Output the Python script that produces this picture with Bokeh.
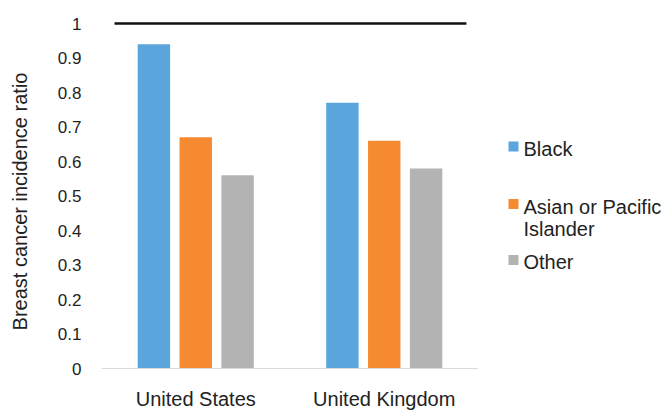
import math
from bokeh.plotting import figure
from bokeh.layouts import row
from bokeh.models import (ColumnDataSource, FactorRange, Range1d, FixedTicker,
                          NumeralTickFormatter, Span)
from bokeh.transform import dodge
from bokeh.core.properties import value
from bokeh.embed import file_html
from bokeh.resources import INLINE

# Breast cancer incidence ratio by group, relative to the reference population (= 1)
countries = ["United States", "United Kingdom"]
groups = ["Black", "Asian or Pacific Islander", "Other"]
black = [0.94, 0.77]
asian_pacific = [0.67, 0.66]
other = [0.56, 0.58]
reference_ratio = 1.0
y_ticks = [0, 0.1, 0.2, 0.3, 0.4, 0.5, 0.6, 0.7, 0.8, 0.9, 1.0]
y_title = "Breast cancer incidence ratio"

colors = ["#5aa6dc", "#f58a31", "#b3b3b3"]
FONT = "Liberation Sans"
TEXT = "#222222"
H = 410
TOP = 12          # frame top (page px)
ZERO_PX = 368     # page px of ratio 0
PX_PER_UNIT = 345
TITLE_W, MAIN_W, LEG_W = 36, 454, 175

src = ColumnDataSource(data=dict(country=countries, black=black,
                                 asian=asian_pacific, other=other))

# the frame reaches the bottom edge so the category names can sit inside it
y_lo = -(H - ZERO_PX) / PX_PER_UNIT
y_hi = (ZERO_PX - TOP) / PX_PER_UNIT

p = figure(x_range=FactorRange(*countries, range_padding=0),
           y_range=Range1d(y_lo, y_hi),
           width=MAIN_W, height=H,
           min_border_left=101 - TITLE_W, min_border_right=12,
           min_border_top=TOP, min_border_bottom=0,
           output_backend="svg", toolbar_location=None)

offsets = [-0.222, 0.0, 0.222]
for col, off, c in zip(["black", "asian", "other"], offsets, colors):
    p.vbar(x=dodge("country", off, range=p.x_range), top=col, bottom=0, width=0.172,
           source=src, fill_color=c, line_color=None)

# category axis baseline
p.add_layout(Span(location=0, dimension="width", line_color="#d9d9d9", line_width=1))

# reference level line at ratio 1
ref = ColumnDataSource(data=dict(x0=[countries[0]], x1=[countries[-1]],
                                 y=[reference_ratio]))
p.segment(x0=dodge("x0", -0.431, range=p.x_range), y0="y",
          x1=dodge("x1", 0.436, range=p.x_range), y1="y",
          source=ref, line_color="#111111", line_width=2.5)

# category names under each group
p.text(x="country", y=0, text="country", source=src, y_offset=30,
       text_font=value(FONT), text_font_size="20px", text_color=TEXT,
       text_align="center", text_baseline="middle")

p.xgrid.visible = False
p.ygrid.visible = False
p.outline_line_color = None
p.xaxis.visible = False

p.yaxis.ticker = FixedTicker(ticks=y_ticks)
p.yaxis.formatter = NumeralTickFormatter(format="0.[0]")
p.yaxis.axis_line_color = None
p.yaxis.major_tick_out = 0
p.yaxis.major_tick_in = 0
p.yaxis.minor_tick_line_color = None
p.yaxis.major_label_text_font = FONT
p.yaxis.major_label_text_font_size = "17px"
p.yaxis.major_label_text_color = TEXT
p.yaxis.major_label_standoff = 20


def side_panel(width, x0):
    f = figure(width=width, height=H, x_range=Range1d(x0, x0 + width),
               y_range=Range1d(H, TOP), x_axis_type=None, y_axis_type=None,
               min_border_left=0, min_border_right=0,
               min_border_top=TOP, min_border_bottom=0,
               output_backend="svg", toolbar_location=None)
    f.outline_line_color = None
    f.xgrid.visible = False
    f.ygrid.visible = False
    return f


# vertical axis title panel
tp = side_panel(TITLE_W, 0)
tp.text(x=[19], y=[201], text=[y_title], angle=math.pi / 2,
        text_font=value(FONT), text_font_size="20px", text_color=TEXT,
        text_align="center", text_baseline="middle")

# legend panel, drawn in page pixel coordinates
leg = side_panel(LEG_W, TITLE_W + MAIN_W)
swatch_y = [146, 203.5, 259.5]
first_baseline = [148, 206, 261]
line_gap = 22
leg.scatter(x=[513] * 3, y=swatch_y, marker="square", size=10,
            fill_color=colors, line_color=None)

lx, ly, lt = [], [], []
for name, base in zip(groups, first_baseline):
    lines = [name] if len(name) < 18 else name.rsplit(" ", 1)
    for i, ln in enumerate(lines):
        lx.append(523)
        ly.append(base + i * line_gap)
        lt.append(ln)
leg.text(x=lx, y=ly, text=lt, text_font=value(FONT), text_font_size="20px",
         text_color=TEXT, text_baseline="alphabetic", text_align="left")

layout = row(tp, p, leg)
open("out.html", "w").write(file_html(layout, INLINE))
